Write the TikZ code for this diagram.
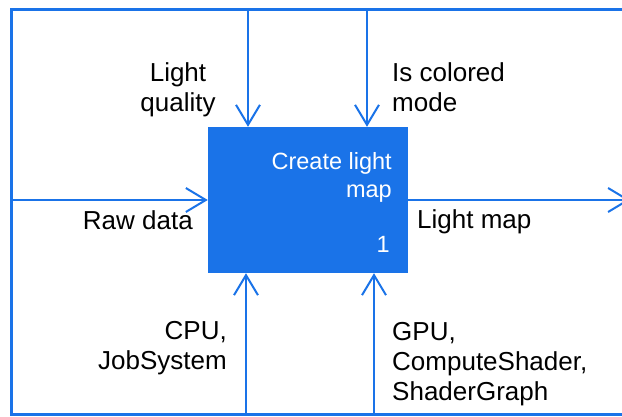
\documentclass[tikz,border=0pt]{standalone}
\usepackage{fontspec}
\setmainfont{Liberation Sans}
\usetikzlibrary{arrows.meta}
\definecolor{myblue}{HTML}{1A73E8}
\begin{document}
\begin{tikzpicture}[x=1pt,y=-1pt,
  arr/.style={draw=myblue,line width=2pt,-{Straight Barb[length=20pt,width=24pt]}},
  framestyle/.style={draw=myblue,line width=3pt,line join=miter},
  lbl/.style={inner sep=0pt,font=\fontsize{26}{30}\selectfont,text=black},
  boxtxt/.style={inner sep=0pt,font=\fontsize{23.5}{28}\selectfont,text=white},
  fbox/.style={fill=myblue,minimum width=200pt,minimum height=146pt,inner sep=0pt}]
\useasboundingbox (0,0) rectangle (622,417);
% frame
\coordinate (fa) at (640,9.5);
\coordinate (fb) at (11.5,9.5);
\coordinate (fc) at (11.5,414.5);
\coordinate (fd) at (640,414.5);
\draw[framestyle] (fa) -- (fb) -- (fc) -- (fd);
% function box
\node[fbox] (f) at (308,200) {};
\node[boxtxt,align=right,anchor=north east] (ft) at (392,152) {Create light\\map};
\node[boxtxt,anchor=base east] (fn) at (390,253) {1};
% connector ends
\coordinate (t1) at (248,9.5);
\coordinate (t2) at (367,9.5);
\coordinate (b1) at (246,414.5);
\coordinate (b2) at (374,414.5);
\coordinate (l) at (11.5,200);
\coordinate (r) at (630,200);
\draw[arr] (t1) -- (t1 |- f.north);
\draw[arr] (t2) -- (t2 |- f.north);
\draw[arr] (b1) -- (b1 |- f.south);
\draw[arr] (b2) -- (b2 |- f.south);
\draw[arr] (l) -- (f.west);
\draw[arr] (f.east) -- (r);
% labels
\node[lbl,align=center,anchor=north] (lq) at (178,62.5) {Light\\quality};
\node[lbl,align=left,anchor=north west] (ic) at (392,62.5) {Is colored\\mode};
\node[lbl,anchor=base east] (rd) at (193,230) {Raw data};
\node[lbl,anchor=base west] (lm) at (417,229) {Light map};
\node[lbl,align=right,anchor=north east] (cpu) at (227,321.5) {CPU,\\JobSystem};
\node[lbl,align=left,anchor=north west] (gpu) at (392,322.5) {GPU,\\ComputeShader,\\ShaderGraph};
\end{tikzpicture}
\end{document}
